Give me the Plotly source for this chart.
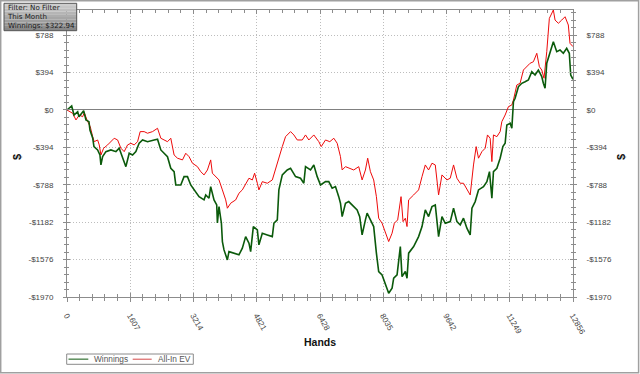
import plotly.graph_objects as go

# ---- data ----
win_hands = [0, 119, 178, 271, 304, 423, 482, 558, 583, 652, 685, 778, 837, 862, 905, 989, 1116, 1243, 1326, 1412,
             1496, 1580, 1666, 1750, 1833, 1920, 2046, 2214, 2300, 2384, 2467, 2553, 2637, 2721, 2764, 2891, 2974, 3061,
             3144, 3228, 3355, 3482, 3525, 3608, 3651, 3735, 3804, 3821, 3862, 3923, 3948, 3989, 4075, 4115, 4242, 4369,
             4455, 4539, 4623, 4666, 4734, 4836, 4876, 4962, 5089, 5216, 5257, 5343, 5383, 5470, 5596, 5680, 5807, 5933,
             6017, 6060, 6187, 6271, 6357, 6441, 6568, 6651, 6737, 6821, 6904, 6948, 6991, 7075, 7158, 7285, 7371, 7437,
             7498, 7582, 7625, 7709, 7792, 7861, 7919, 8005, 8089, 8173, 8259, 8300, 8386, 8469, 8512, 8596, 8639, 8680,
             8807, 8933, 9020, 9103, 9187, 9273, 9357, 9441, 9527, 9610, 9737, 9821, 9907, 9991, 10074, 10160, 10244,
             10288, 10371, 10455, 10582, 10668, 10734, 10795, 10835, 10922, 11005, 11074, 11132, 11175, 11259, 11302,
             11343, 11385, 11469, 11555, 11639, 11722, 11809, 11892, 11976, 12062, 12103, 12146, 12189, 12273, 12357,
             12443, 12526, 12610, 12696, 12762, 12798, 12856]
winnings = [0, 42, -53, -18, -71, -7, -105, -123, -211, -295, -386, -421, -474, -579, -492, -439, -421, -439, -403, -508,
            -597, -456, -474, -439, -351, -316, -334, -316, -308, -421, -456, -492, -614, -650, -790, -790, -702, -702,
            -790, -842, -913, -947, -895, -930, -807, -947, -1000, -1190, -1018, -1193, -1386, -1474, -1579, -1492, -1508,
            -1526, -1456, -1334, -1403, -1492, -1228, -1263, -1421, -1298, -1316, -1334, -1193, -1158, -842, -684, -632,
            -614, -702, -719, -772, -597, -632, -579, -702, -790, -755, -755, -824, -807, -913, -982, -1123, -982, -965,
            -1018, -1053, -1123, -1316, -1158, -1087, -1158, -1228, -1508, -1702, -1737, -1842, -1930, -1877, -1772,
            -1737, -1439, -1755, -1702, -1772, -1508, -1439, -1334, -1228, -1053, -1123, -1018, -1000, -1334, -1123,
            -1193, -1176, -1035, -1176, -1211, -1140, -1245, -1316, -1035, -965, -842, -807, -755, -650, -930, -650, -614,
            -508, -386, -351, -158, -140, -193, 87, 123, 245, 281, 298, 316, 403, 368, 421, 351, 281, 228, 492, 614, 719,
            614, 632, 597, 650, 597, 368, 323]

ev_hands = [0, 144, 228, 312, 398, 439, 507, 591, 652, 692, 778, 819, 862, 931, 1032, 1116, 1199, 1286, 1369, 1453,
            1539, 1623, 1706, 1793, 1859, 1960, 2046, 2173, 2300, 2384, 2467, 2553, 2637, 2721, 2807, 2934, 3017, 3101,
            3187, 3314, 3398, 3482, 3568, 3651, 3694, 3778, 3862, 3948, 4032, 4075, 4159, 4286, 4369, 4455, 4539, 4623,
            4709, 4767, 4836, 4876, 4962, 5089, 5216, 5299, 5383, 5470, 5553, 5680, 5764, 5850, 5977, 6060, 6144, 6271,
            6398, 6459, 6568, 6677, 6779, 6865, 6948, 6991, 7075, 7202, 7285, 7412, 7498, 7582, 7640, 7709, 7792, 7861,
            7919, 8005, 8089, 8173, 8259, 8317, 8401, 8487, 8538, 8596, 8639, 8680, 8807, 8933, 9020, 9103, 9187, 9273,
            9357, 9441, 9527, 9653, 9737, 9821, 9907, 9991, 10074, 10160, 10244, 10328, 10396, 10455, 10541, 10625,
            10683, 10751, 10795, 10835, 10922, 11005, 11048, 11132, 11216, 11302, 11343, 11428, 11512, 11596, 11682,
            11766, 11850, 11936, 12002, 12062, 12120, 12189, 12255, 12357, 12400, 12484, 12570, 12654, 12737, 12780, 12856]
allin_ev = [0, -35, -105, -53, -71, -28, -105, -176, -281, -334, -316, -368, -474, -403, -368, -334, -298, -316, -403,
            -439, -368, -351, -368, -334, -228, -228, -245, -228, -193, -298, -316, -334, -298, -474, -508, -526, -456,
            -492, -561, -597, -650, -684, -632, -526, -666, -702, -737, -842, -947, -1035, -982, -947, -877, -842, -772,
            -719, -737, -666, -772, -842, -755, -772, -737, -614, -492, -386, -281, -228, -263, -316, -316, -263, -316,
            -263, -334, -386, -316, -334, -298, -351, -492, -632, -597, -614, -632, -597, -737, -632, -508, -650, -737,
            -913, -1140, -1193, -1281, -1386, -1298, -1193, -1158, -913, -1176, -1140, -1228, -947, -895, -842, -702,
            -579, -632, -561, -579, -895, -684, -737, -719, -579, -719, -772, -772, -842, -895, -579, -386, -508, -439,
            -403, -263, -298, -544, -263, -281, -228, -123, -53, 35, 53, 105, 263, 281, 421, 456, 492, 508, 597, 456,
            421, 334, 614, 965, 1053, 947, 913, 947, 982, 895, 702, 667]

x_ticks = [0, 1607, 3214, 4821, 6428, 8035, 9642, 11249, 12856]
y_ticks = [-1970, -1576, -1182, -788, -394, 0, 394, 788]
y_labels = ["-$1970", "-$1576", "-$1182", "-$788", "-$394", "$0", "$394", "$788"]
series_names = ["Winnings", "All-In EV"]
info_lines = ["Filter: No Filter", "This Month", "Winnings: $322.94"]

GREEN = "#0b5a0b"
RED = "#ee0a0a"
FONT = "Liberation Sans, Arial, sans-serif"
BOX_FONT = "DejaVu Sans, Verdana, sans-serif"
X_RANGE = [0, 12856]
Y_RANGE = [-1970, 1053]
GRID_DASH = "1px,2px"

fig = go.Figure()
fig.add_trace(go.Scatter(x=ev_hands, y=allin_ev, mode="lines", name=series_names[1],
                         line=dict(color=RED, width=1), showlegend=False, hoverinfo="skip"))
fig.add_trace(go.Scatter(x=win_hands, y=winnings, mode="lines", name=series_names[0],
                         line=dict(color=GREEN, width=1.6), showlegend=False, hoverinfo="skip"))
# dummy traces to register helper axes
for xa, ya in [("x2", "y2"), ("x3", "y3"), ("x2", "y4")]:
    fig.add_trace(go.Scatter(x=[None], y=[None], xaxis=xa, yaxis=ya, showlegend=False, hoverinfo="skip"))

tick_font = dict(family=FONT, size=8, color="#444444")
AX = "#8c8c8c"

fig.update_layout(
    width=640, height=374,
    margin=dict(l=67, r=67, t=10, b=77),
    paper_bgcolor="white", plot_bgcolor="white",
    font=dict(family=FONT),
    hovermode=False,
    xaxis=dict(range=X_RANGE, tickmode="array", tickvals=x_ticks, ticktext=[str(v) for v in x_ticks],
               tickangle=60, tickfont=tick_font, ticks="outside", ticklen=4, tickcolor=AX,
               minor=dict(ticks="outside", ticklen=3, dtick=1607 / 5, tick0=0, tickcolor=AX, showgrid=False),
               showline=True, linecolor=AX, linewidth=1, showgrid=True, gridcolor="#bdbdbd",
               griddash=GRID_DASH, gridwidth=1, zeroline=False, ticklabelstandoff=6),
    xaxis2=dict(range=X_RANGE, overlaying="x", side="bottom", anchor="y", tickmode="array", tickvals=x_ticks,
                ticks="inside", ticklen=4, tickcolor=AX, showticklabels=False, showgrid=False, zeroline=False,
                minor=dict(ticks="inside", ticklen=3, dtick=1607 / 5, tick0=0, tickcolor=AX, showgrid=False)),
    xaxis3=dict(range=X_RANGE, overlaying="x", side="top", anchor="y", tickmode="array", tickvals=x_ticks,
                ticks="inside", ticklen=4, tickcolor=AX, showticklabels=False, showgrid=False, zeroline=False,
                showline=True, linecolor=AX, linewidth=1,
                minor=dict(ticks="inside", ticklen=3, dtick=1607 / 5, tick0=0, tickcolor=AX, showgrid=False)),
    yaxis=dict(range=Y_RANGE, tickmode="array", tickvals=y_ticks, ticktext=y_labels, tickfont=tick_font,
               ticks="outside", ticklen=3, tickcolor=AX,
               minor=dict(ticks="outside", ticklen=2, dtick=394 / 5, tick0=0, tickcolor=AX, showgrid=False),
               showline=True, linecolor=AX, linewidth=1, showgrid=True, gridcolor="#bdbdbd", griddash=GRID_DASH,
               zeroline=True, zerolinecolor="#808080", zerolinewidth=1, ticklabelstandoff=8),
    yaxis2=dict(range=Y_RANGE, overlaying="y", side="left", anchor="x", tickmode="array", tickvals=y_ticks,
                ticks="inside", ticklen=3, tickcolor=AX, showticklabels=False, showgrid=False, zeroline=False,
                minor=dict(ticks="inside", ticklen=2, dtick=394 / 5, tick0=0, tickcolor=AX, showgrid=False)),
    yaxis3=dict(range=Y_RANGE, overlaying="y", side="right", anchor="x", tickmode="array", tickvals=y_ticks,
                ticktext=y_labels, tickfont=tick_font, ticks="outside", ticklen=3, tickcolor=AX,
                showline=True, linecolor=AX, linewidth=1, showgrid=False, zeroline=False, ticklabelstandoff=8,
                minor=dict(ticks="outside", ticklen=2, dtick=394 / 5, tick0=0, tickcolor=AX, showgrid=False)),
    yaxis4=dict(range=Y_RANGE, overlaying="y", side="right", anchor="x", tickmode="array", tickvals=y_ticks,
                ticks="inside", ticklen=3, tickcolor=AX, showticklabels=False, showgrid=False, zeroline=False,
                minor=dict(ticks="inside", ticklen=2, dtick=394 / 5, tick0=0, tickcolor=AX, showgrid=False)),
)

PX0, PW, PY0, PH = 67, 506, 297, 287  # plot-area geometry in pixels


def px(p):
    return (p - PX0) / PW


def py(q):
    return (PY0 - q) / PH


shapes = []
annotations = []

# outer frame
shapes.append(dict(type="rect", xref="paper", yref="paper", x0=px(0.7), x1=px(638.6), y0=py(372.8), y1=py(0.7),
                   line=dict(color="#a0a0a0", width=1.5), layer="above"))

# info box with gradient
bx0, bx1, by0, by1 = 4, 76.7, 3.3, 30.7
n = 10
for i in range(n):
    t = i / (n - 1)
    c = int(205 - t * 70)
    shapes.append(dict(type="rect", xref="paper", yref="paper", x0=px(bx0), x1=px(bx1),
                       y0=py(by0 + (by1 - by0) * (i + 1) / n), y1=py(by0 + (by1 - by0) * i / n),
                       line=dict(width=0), fillcolor=f"rgb({c},{c},{c})", layer="above"))
shapes.append(dict(type="rect", xref="paper", yref="paper", x0=px(bx0), x1=px(bx1), y0=py(by1), y1=py(by0),
                   line=dict(color="#555555", width=1), layer="above"))
annotations.append(dict(text="<br>".join(info_lines), xref="paper", yref="paper", x=px(5.5), y=py(16.2),
                        xanchor="left", yanchor="middle", align="left", showarrow=False, borderpad=0,
                        font=dict(family=BOX_FONT, size=7.1, color="#1a1a1a")))

# axis titles
annotations.append(dict(text="<b>Hands</b>", xref="paper", yref="paper", x=px(320), y=py(342), xanchor="center",
                        yanchor="middle", showarrow=False, font=dict(family=FONT, size=10.5, color="#111")))
for xx in (17, 621):
    annotations.append(dict(text="<b>$</b>", xref="paper", yref="paper", x=px(xx), y=py(157), xanchor="center",
                            yanchor="middle", showarrow=False, textangle=-90,
                            font=dict(family=FONT, size=11, color="#111")))

# legend box
shapes.append(dict(type="rect", xref="paper", yref="paper", x0=px(66.7), x1=px(193.3), y0=py(364.3), y1=py(354),
                   line=dict(color="#8a8a8a", width=1), fillcolor="white"))
ly = py(359.2)
shapes.append(dict(type="line", xref="paper", yref="paper", x0=px(68.5), x1=px(88.3), y0=ly, y1=ly,
                   line=dict(color="#5d8f5d", width=1.5)))
shapes.append(dict(type="line", xref="paper", yref="paper", x0=px(132.7), x1=px(151.7), y0=ly, y1=ly,
                   line=dict(color="#d44848", width=1)))
for name, xx in zip(series_names, [93.0, 156.5]):
    annotations.append(dict(text=name, xref="paper", yref="paper", x=px(xx), y=ly, xanchor="left",
                            yanchor="middle", showarrow=False, borderpad=0,
                            font=dict(family=FONT, size=8.3, color="#555555")))

fig.update_layout(shapes=shapes, annotations=annotations)
fig.write_html("out.html", config={"displayModeBar": False, "staticPlot": True},
               post_script="document.body.style.margin='0';document.body.style.overflow='hidden';")
